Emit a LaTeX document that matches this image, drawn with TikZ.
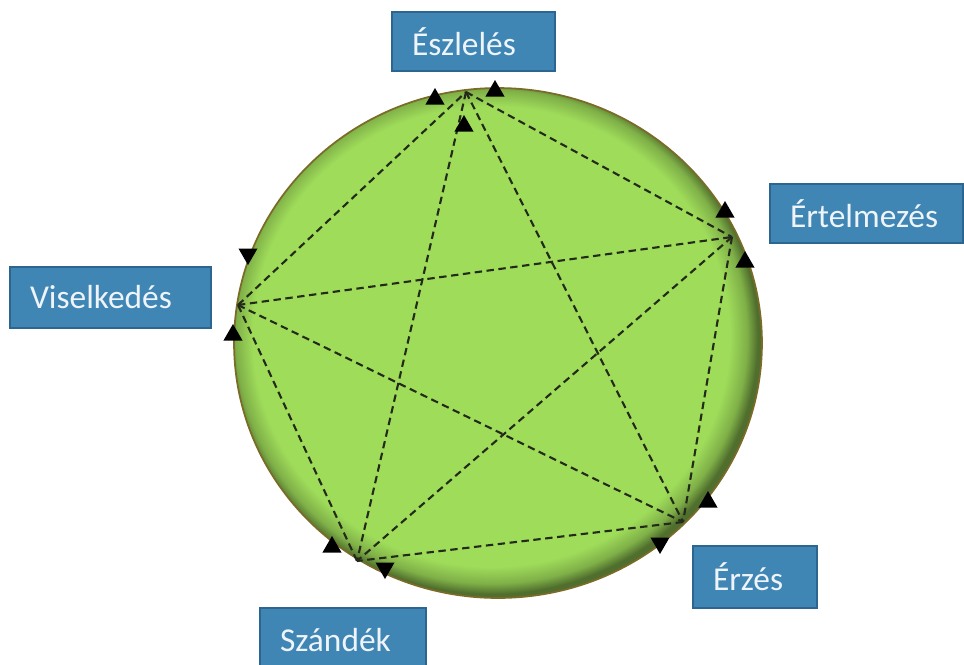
\documentclass[tikz,border=0pt]{standalone}
\usepackage{fontspec}
\setmainfont{Carlito}
\usetikzlibrary{shapes.geometric}
\definecolor{discgreen}{HTML}{9FDC5A}
\definecolor{discrim}{HTML}{7A6B28}
\definecolor{boxblue}{HTML}{3F86B5}
\definecolor{boxedge}{HTML}{2C6690}
\definecolor{boxtext}{HTML}{EEF4F9}
\definecolor{linkdark}{HTML}{232A1A}
\pgfdeclareradialshading{discshade}{\pgfpoint{-1.2bp}{1.2bp}}{color(0bp)=(discgreen); color(22.6bp)=(discgreen); color(24.2bp)=(discgreen!80!black); color(25.2bp)=(discgreen!50!black); color(50bp)=(discgreen!50!black)}

\begin{document}
\begin{tikzpicture}[
            x=0.02cm, y=-0.02cm,
            stagebox/.style={draw=boxedge, line width=1pt, fill=boxblue, text=boxtext, font=\fontsize{19}{23}\selectfont, align=left, inner xsep=0.4cm, inner ysep=0pt, minimum height=1.18cm},
            link/.style={linkdark, line width=1.2pt, dash pattern=on 4.2pt off 2.6pt},
            tipup/.style={regular polygon, regular polygon sides=3, fill=black, inner sep=0pt, minimum size=0.44cm},
            tipdown/.style={tipup, shape border rotate=180},
        ]

        % Page frame
        \useasboundingbox (0,0) rectangle (964,664);
        \clip (0,0) rectangle (964,664);

        % Disc
        \shade[shading=discshade] (498,343) ellipse [x radius=5.28cm, y radius=5.1cm];
        \draw[discrim, line width=1pt] (498,343) ellipse [x radius=5.28cm, y radius=5.1cm];

        % Stage points on the rim
        \coordinate (vesz) at (466,92);
        \coordinate (vert) at (732,237);
        \coordinate (verz) at (683,522);
        \coordinate (vsza) at (357,561);
        \coordinate (vvis) at (238,305);

        % Links (pentagon and star)
        \foreach \a/\b in {vesz/vert, vert/verz, verz/vsza, vsza/vvis, vvis/vesz,
                           vesz/vsza, vesz/verz, vvis/vert, vvis/verz, vert/vsza} {
            \draw[link] (\a) -- (\b);
        }

        % Tips
        \node[tipup] (t1) at (435,99) {};
        \node[tipup] (t2) at (495,91) {};
        \node[tipup] (t3) at (464,126) {};
        \node[tipup] (t4) at (725,212) {};
        \node[tipup] (t5) at (745,262) {};
        \node[tipdown] (t6) at (248,254) {};
        \node[tipup] (t7) at (233,335) {};
        \node[tipup] (t8) at (708,502) {};
        \node[tipdown] (t9) at (660,543) {};
        \node[tipup] (t10) at (332,547) {};
        \node[tipdown] (t11) at (385,568) {};

        % Stage labels
        \node[stagebox, text width=2.46cm] (esz) at (473.5,41.5) {Észlelés};
        \node[stagebox, text width=3.06cm] (ert) at (866.5,213.5) {Értelmezés};
        \node[stagebox, text width=3.22cm, minimum height=1.22cm] (vis) at (110.5,297.5) {Viselkedés};
        \node[stagebox, text width=1.68cm, minimum height=1.24cm] (erz) at (755,577) {Érzés};
        \node[stagebox, text width=2.52cm, minimum height=1.28cm] (sza) at (343,640) {Szándék};

\end{tikzpicture}
\end{document}
